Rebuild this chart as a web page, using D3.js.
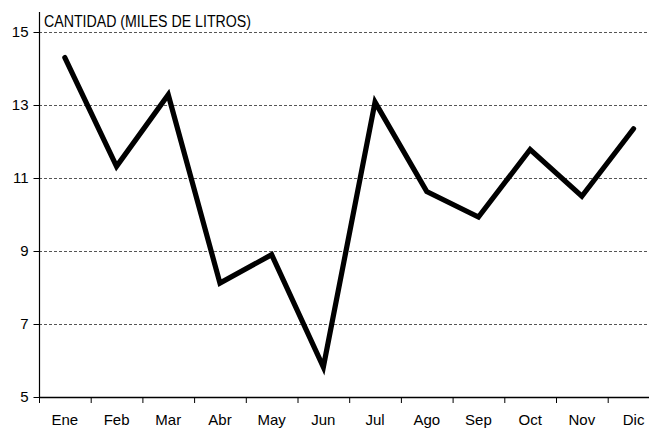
<!DOCTYPE html>
<html><head><meta charset="utf-8">
<script src="https://cdn.jsdelivr.net/npm/d3@7"></script>
<style>body{margin:0;background:#fff}svg{display:block}</style>
</head><body>
<script>
const months = ["Ene","Feb","Mar","Abr","May","Jun","Jul","Ago","Sep","Oct","Nov","Dic"];
const values = [14.3, 11.32, 13.28, 8.12, 8.9, 5.82, 13.08, 10.63, 9.93, 11.78, 10.5, 12.35];
const yTicks = [5, 7, 9, 11, 13, 15];
const title = "CANTIDAD (MILES DE LITROS)";

const W = 649, H = 429;
const svg = d3.select("body").append("svg").attr("width", W).attr("height", H);
const x0 = 39, bw = 51.7;
const x = d3.scaleBand().domain(months).range([x0, x0 + 12 * bw]).padding(0);
const y = d3.scaleLinear().domain([5, 15]).range([397, 32]);

// grid
svg.append("g").selectAll("line").data(yTicks.filter(d => d > 5)).join("line")
  .attr("x1", x0).attr("x2", W).attr("y1", d => y(d) + 0.5).attr("y2", d => y(d) + 0.5)
  .attr("stroke", "#555").attr("stroke-width", 1).attr("stroke-dasharray", "3,2");

// y axis
const ya = svg.append("g").attr("transform", `translate(${x0 + 0.5},0)`)
  .call(d3.axisLeft(y).tickValues(yTicks).tickSize(6).tickPadding(5));
ya.select(".domain").attr("d", `M0,12V${y(5) + 0.5}`).attr("stroke", "#000").attr("stroke-width", 1.2);
ya.selectAll(".tick line").attr("stroke", "#000");
ya.selectAll("text").attr("font-family", "Liberation Sans, Arial, sans-serif").attr("font-size", 15).attr("fill", "#000");

// x axis
const xa = svg.append("g").attr("transform", `translate(0,${y(5) + 0.5})`)
  .call(d3.axisBottom(x).tickSize(0).tickPadding(17));
xa.select(".domain").attr("d", `M${x0},0H${W}`).attr("stroke", "#000").attr("stroke-width", 1.5);
xa.selectAll("text").attr("font-family", "Liberation Sans, Arial, sans-serif").attr("font-size", 15).attr("fill", "#000");
svg.append("g").selectAll("line").data(months).join("line")
  .attr("x1", d => x(d) + 0.5).attr("x2", d => x(d) + 0.5)
  .attr("y1", y(5)).attr("y2", y(5) + 6).attr("stroke", "#000").attr("stroke-width", 1);

// title
svg.append("text").attr("x", 44).attr("y", 27).text(title)
  .attr("font-family", "Liberation Sans Narrow, Arial Narrow, sans-serif").attr("font-size", 16)
  .attr("textLength", 207).attr("lengthAdjust", "spacingAndGlyphs").attr("fill", "#000");

// line
const line = d3.line().x((d, i) => x(months[i]) + x.bandwidth() / 2).y(d => y(d));
svg.append("path").datum(values).attr("d", line).attr("fill", "none")
  .attr("stroke", "#000").attr("stroke-width", 5.2).attr("stroke-linejoin", "miter").attr("stroke-linecap", "round");
</script>
</body></html>
